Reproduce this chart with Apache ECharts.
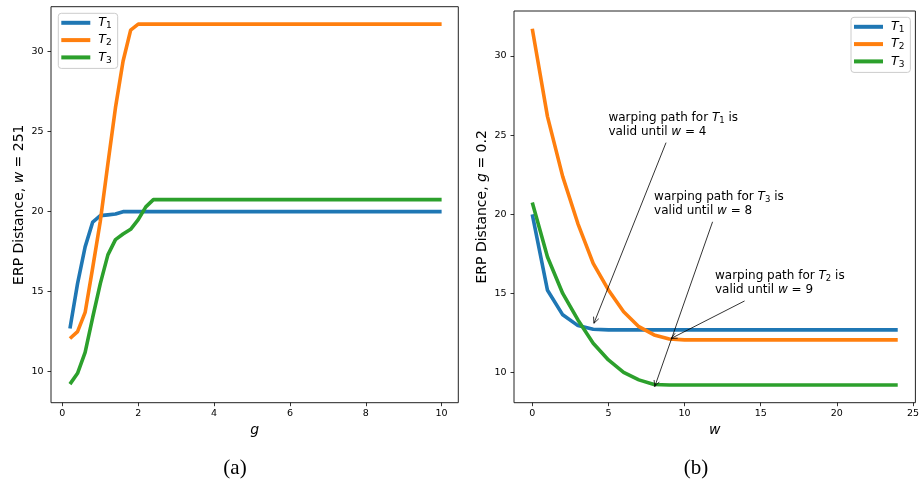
<!DOCTYPE html>
<html>
<head>
<meta charset="utf-8">
<script src="https://cdn.jsdelivr.net/npm/echarts@6/dist/echarts.min.js"></script>
<style>
  html, body { margin: 0; padding: 0; background: #fff; }
  #chart { width: 922px; height: 484px; }
</style>
</head>
<body>
<div id="chart"></div>
<script>
// (a) ERP distance against the gap value g, window w = 251
const gValues = [
  0.2, 0.4, 0.6, 0.8, 1.0, 1.2, 1.4, 1.6, 1.8, 2.0,
  2.2, 2.4, 2.6, 2.8, 3.0, 3.2, 3.4, 3.6, 3.8, 4.0,
  4.2, 4.4, 4.6, 4.8, 5.0, 5.2, 5.4, 5.6, 5.8, 6.0,
  6.2, 6.4, 6.6, 6.8, 7.0, 7.2, 7.4, 7.6, 7.8, 8.0,
  8.2, 8.4, 8.6, 8.8, 9.0, 9.2, 9.4, 9.6, 9.8, 10.0
];
const gT1 = [
  12.7, 15.5, 17.8, 19.35, 19.75, 19.8, 19.85, 20.0, 20.0, 20.0,
  20.0, 20.0, 20.0, 20.0, 20.0, 20.0, 20.0, 20.0, 20.0, 20.0,
  20.0, 20.0, 20.0, 20.0, 20.0, 20.0, 20.0, 20.0, 20.0, 20.0,
  20.0, 20.0, 20.0, 20.0, 20.0, 20.0, 20.0, 20.0, 20.0, 20.0,
  20.0, 20.0, 20.0, 20.0, 20.0, 20.0, 20.0, 20.0, 20.0, 20.0
];
const gT2 = [
  12.07, 12.5, 13.7, 16.5, 19.4, 23.0, 26.5, 29.4, 31.35, 31.72,
  31.72, 31.72, 31.72, 31.72, 31.72, 31.72, 31.72, 31.72, 31.72, 31.72,
  31.72, 31.72, 31.72, 31.72, 31.72, 31.72, 31.72, 31.72, 31.72, 31.72,
  31.72, 31.72, 31.72, 31.72, 31.72, 31.72, 31.72, 31.72, 31.72, 31.72,
  31.72, 31.72, 31.72, 31.72, 31.72, 31.72, 31.72, 31.72, 31.72, 31.72
];
const gT3 = [
  9.22, 9.9, 11.2, 13.4, 15.5, 17.3, 18.25, 18.6, 18.9, 19.5,
  20.3, 20.75, 20.75, 20.75, 20.75, 20.75, 20.75, 20.75, 20.75, 20.75,
  20.75, 20.75, 20.75, 20.75, 20.75, 20.75, 20.75, 20.75, 20.75, 20.75,
  20.75, 20.75, 20.75, 20.75, 20.75, 20.75, 20.75, 20.75, 20.75, 20.75,
  20.75, 20.75, 20.75, 20.75, 20.75, 20.75, 20.75, 20.75, 20.75, 20.75
];

// (b) ERP distance against the window size w, gap value g = 0.2
const wValues = [0, 1, 2, 3, 4, 5, 6, 7, 8, 9, 10, 11, 12, 13, 14, 15, 16, 17, 18, 19, 20, 21, 22, 23, 24];
const wT1 = [
  20.0, 15.2, 13.65, 12.97, 12.74, 12.7, 12.7, 12.7, 12.7, 12.7,
  12.7, 12.7, 12.7, 12.7, 12.7, 12.7, 12.7, 12.7, 12.7, 12.7,
  12.7, 12.7, 12.7, 12.7, 12.7
];
const wT2 = [
  31.72, 26.17, 22.38, 19.4, 16.9, 15.22, 13.85, 12.9, 12.38, 12.12,
  12.07, 12.07, 12.07, 12.07, 12.07, 12.07, 12.07, 12.07, 12.07, 12.07,
  12.07, 12.07, 12.07, 12.07, 12.07
];
const wT3 = [
  20.75, 17.3, 15.0, 13.33, 11.86, 10.8, 10.02, 9.54, 9.25, 9.22,
  9.22, 9.22, 9.22, 9.22, 9.22, 9.22, 9.22, 9.22, 9.22, 9.22,
  9.22, 9.22, 9.22, 9.22, 9.22
];

const gTicks = [0, 2, 4, 6, 8, 10];
const wTicks = [0, 5, 10, 15, 20, 25];
const yTicks = [10, 15, 20, 25, 30];

const seriesNames = ['T1', 'T2', 'T3'];
const seriesColors = ['#1f77b4', '#ff7f0e', '#2ca02c'];

// Annotations on panel (b): series subscript, w where the path stays valid,
// text anchor (w, distance) and the point on the curve the arrow points to.
const noteSubs = ['1', '3', '2'];
const noteValidUntil = [4, 8, 9];
const noteTextAt = [[5, 25], [8, 20], [12, 15]];
const noteTargetY = [13.0, 9.0, 12.1];

const FONT = 'DejaVu Sans';

function pairs(xs, ys) { return xs.map((x, i) => [x, ys[i]]); }

const measureCtx = document.createElement('canvas').getContext('2d');
function textWidth(str, size, style) {
  measureCtx.font = (style || 'normal') + ' ' + size + 'px "' + FONT + '"';
  return measureCtx.measureText(str).width;
}

const noteRich = {
  i: { fontStyle: 'italic', fontSize: 12, fontFamily: FONT, lineHeight: 14, fill: '#000' },
  s: { fontSize: 8.5, fontFamily: FONT, lineHeight: 14, padding: [6, 0, 0, 0], fill: '#000' }
};

function renderNote(params, api) {
  const i = params.dataIndex;
  const anchor = api.coord([api.value(0), api.value(1)]);
  const tip = api.coord([api.value(2), api.value(3)]);
  const lineH = 14;
  const bottom = anchor[1] + 3.5;
  const top = bottom - 2 * lineH;
  const width = Math.max(
    textWidth('warping path for ', 12) + textWidth('T', 12, 'italic') + textWidth(noteSubs[i], 8.5) + textWidth(' is', 12),
    textWidth('valid until ', 12) + textWidth('w', 12, 'italic') + textWidth(' = ' + noteValidUntil[i], 12)
  );
  const cx = anchor[0] + width / 2;
  const cy = (top + bottom) / 2;
  const dx = tip[0] - cx, dy = tip[1] - cy;
  const len = Math.hypot(dx, dy);
  const ux = dx / len, uy = dy / len;
  const pad = 4;
  const tx = dx !== 0 ? (width / 2 + pad) / Math.abs(dx) : Infinity;
  const ty = dy !== 0 ? ((bottom - top) / 2 + pad) / Math.abs(dy) : Infinity;
  const t0 = Math.min(tx, ty);
  const start = [cx + dx * t0, cy + dy * t0];
  const end = [tip[0] - ux * 2, tip[1] - uy * 2];
  const L = 6, W = 2.8;
  const nx = -uy, ny = ux;
  const head = [
    [end[0] - ux * L + nx * W, end[1] - uy * L + ny * W],
    end,
    [end[0] - ux * L - nx * W, end[1] - uy * L - ny * W]
  ];
  return {
    type: 'group',
    children: [
      {
        type: 'text',
        x: anchor[0],
        y: bottom,
        style: {
          text: 'warping path for {i|T}{s|' + noteSubs[i] + '} is\nvalid until {i|w} = ' + noteValidUntil[i],
          rich: noteRich,
          fontSize: 12,
          fontFamily: FONT,
          lineHeight: lineH,
          fill: '#000',
          align: 'left',
          verticalAlign: 'bottom'
        }
      },
      {
        type: 'line',
        shape: { x1: start[0], y1: start[1], x2: end[0], y2: end[1] },
        style: { stroke: '#000', lineWidth: 0.8 }
      },
      {
        type: 'polyline',
        shape: { points: head },
        style: { stroke: '#000', lineWidth: 0.8, fill: null }
      }
    ]
  };
}

const tickStyle = { length: 3.5, lineStyle: { color: '#000', width: 0.8 } };
const labelStyle = { fontSize: 9.5, fontFamily: FONT, color: '#000' };

function xAxisFor(grid, min, max, ticks, name) {
  return {
    gridIndex: grid, type: 'value', min: min, max: max,
    axisLine: { show: false, onZero: false },
    axisTick: Object.assign({ show: true, customValues: ticks }, tickStyle),
    axisLabel: Object.assign({ customValues: ticks, margin: 5.5 }, labelStyle),
    splitLine: { show: false },
    name: name, nameLocation: 'middle', nameGap: 19,
    nameTextStyle: { fontSize: 14, fontStyle: 'italic', fontFamily: FONT, color: '#000' }
  };
}

function yAxisFor(grid, min, max, italicName, valueText) {
  return {
    gridIndex: grid, type: 'value', min: min, max: max,
    axisLine: { show: false, onZero: false },
    axisTick: Object.assign({ show: true, customValues: yTicks }, tickStyle),
    axisLabel: Object.assign({ customValues: yTicks, margin: 7.5 }, labelStyle),
    splitLine: { show: false },
    name: '{r|ERP Distance, }{i|' + italicName + '}{r| = ' + valueText + '}',
    nameLocation: 'middle', nameRotate: 90, nameGap: 25,
    nameTextStyle: {
      rich: {
        r: { fontSize: 14, fontFamily: FONT, color: '#000' },
        i: { fontSize: 14, fontFamily: FONT, fontStyle: 'italic', color: '#000' }
      }
    }
  };
}

function legendAt(left, top) {
  return {
    orient: 'vertical', left: left, top: top,
    data: seriesNames, icon: 'rect', itemWidth: 29, itemHeight: 4, itemGap: 2.3,
    padding: [2, 6, 3.5, 3],
    backgroundColor: 'rgba(255,255,255,0.8)',
    borderColor: '#cccccc', borderWidth: 1, borderRadius: 3,
    selectedMode: false,
    formatter: name => '{t|T}{s|' + name.slice(1) + '}',
    textStyle: {
      rich: {
        t: { fontSize: 12.5, fontStyle: 'italic', fontFamily: FONT, color: '#000', lineHeight: 16, padding: [0, 0, 0, 3] },
        s: { fontSize: 9, fontFamily: FONT, color: '#000', lineHeight: 16, padding: [6, 0, 0, 0] }
      }
    }
  };
}

function lineSeries(name, color, grid, data) {
  return {
    name: name, type: 'line', xAxisIndex: grid, yAxisIndex: grid,
    data: data, showSymbol: false, symbol: 'none', smooth: false,
    itemStyle: { color: color },
    lineStyle: { color: color, width: 3.6 },
    emphasis: { disabled: true }
  };
}

const leftData = [gT1, gT2, gT3];
const rightData = [wT1, wT2, wT3];

const series = [];
seriesNames.forEach((n, k) => series.push(lineSeries(n, seriesColors[k], 0, pairs(gValues, leftData[k]))));
seriesNames.forEach((n, k) => series.push(lineSeries(n, seriesColors[k], 1, pairs(wValues, rightData[k]))));
series.push({
  type: 'custom', xAxisIndex: 1, yAxisIndex: 1, silent: true, clip: false, z: 10,
  encode: { x: [0, 2], y: [1, 3] },
  data: noteTextAt.map((p, i) => [p[0], p[1], noteValidUntil[i], noteTargetY[i]]),
  renderItem: renderNote
});

const chart = echarts.init(document.getElementById('chart'), null, { renderer: 'canvas' });
chart.setOption({
  animation: false,
  backgroundColor: '#fff',
  grid: [
    { left: 51, top: 6.7, width: 407.3, height: 396, show: true, borderColor: '#222', borderWidth: 1, backgroundColor: 'transparent' },
    { left: 514, top: 11, width: 401.7, height: 391.7, show: true, borderColor: '#222', borderWidth: 1, backgroundColor: 'transparent' }
  ],
  xAxis: [
    xAxisFor(0, -0.3, 10.44, gTicks, 'g'),
    xAxisFor(1, -1.2, 25.16, wTicks, 'w')
  ],
  yAxis: [
    yAxisFor(0, 8.06, 32.81, 'w', '251'),
    yAxisFor(1, 8.1, 32.84, 'g', '0.2')
  ],
  legend: [legendAt(58.3, 13.3), legendAt(851, 17.3)],
  graphic: [
    { type: 'text', x: 235, y: 468, style: { text: '(a)', fontSize: 21, fontFamily: 'Liberation Serif', fill: '#000', align: 'center', verticalAlign: 'middle' } },
    { type: 'text', x: 696, y: 468, style: { text: '(b)', fontSize: 21, fontFamily: 'Liberation Serif', fill: '#000', align: 'center', verticalAlign: 'middle' } }
  ],
  series: series
});
</script>
</body>
</html>
